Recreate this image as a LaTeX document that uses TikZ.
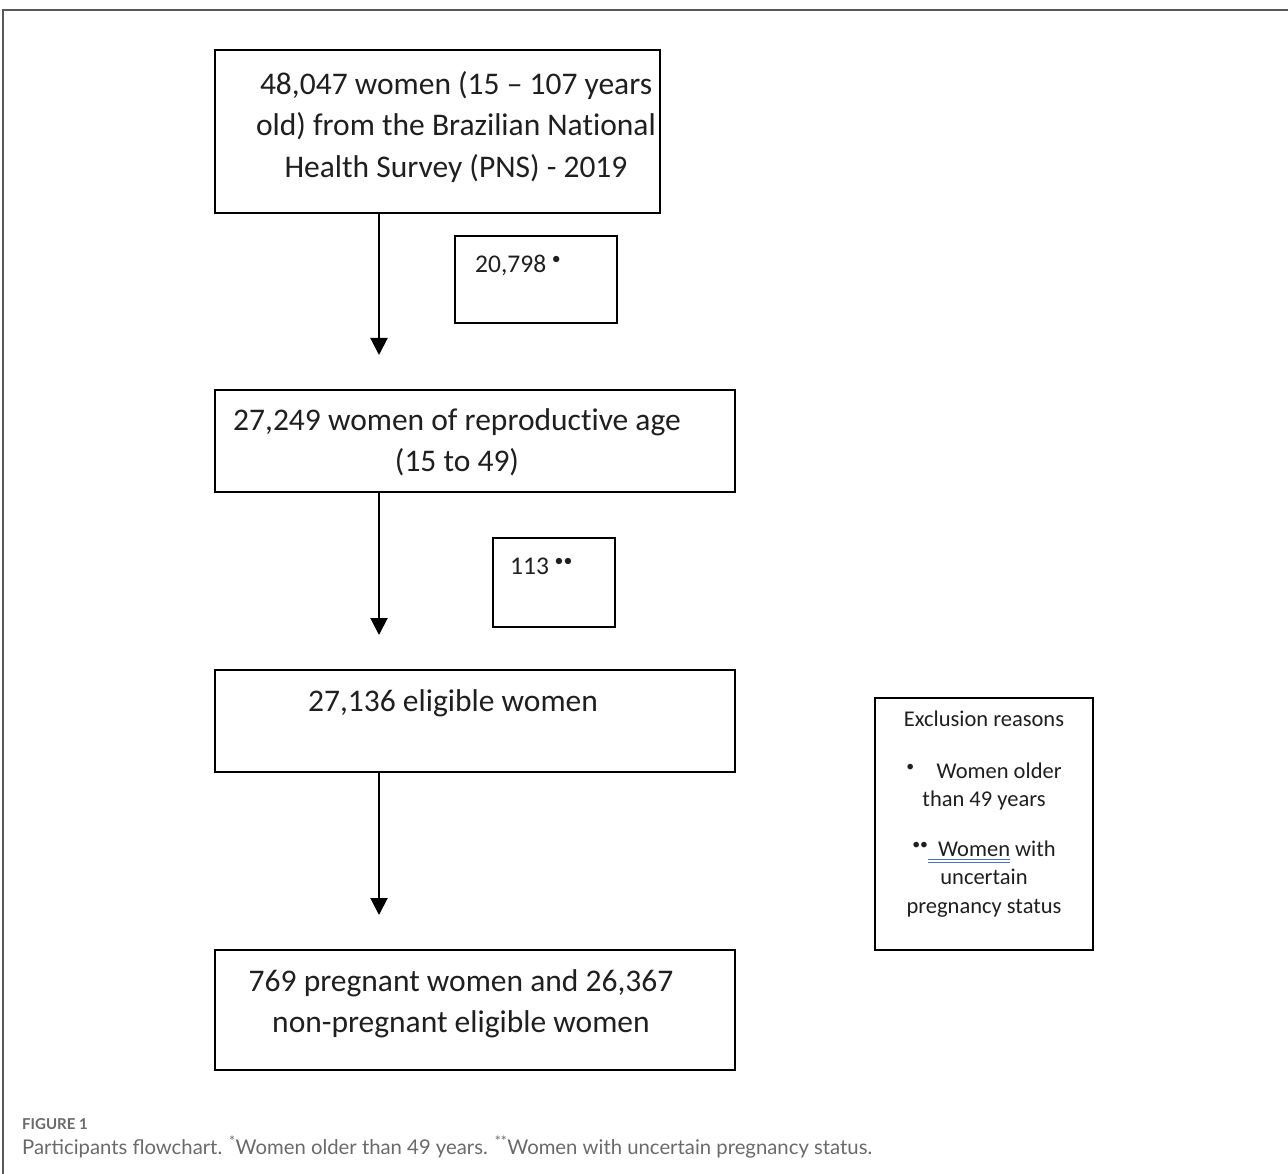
\documentclass[tikz,border=0pt]{standalone}
\usepackage{fontspec}
\setmainfont{Carlito}[Ligatures={TeX,NoCommon}]
\newfontfamily\captionfont{Lato}
\usetikzlibrary{arrows.meta}

\definecolor{captiongray}{HTML}{6A6A6A}
\definecolor{spellblue}{HTML}{4A72C4}
\newlength{\ulwd}
\newcommand{\spellul}[1]{\settowidth{\ulwd}{#1}\rlap{\color{spellblue}\rule[-4pt]{\ulwd}{1.2pt}\hspace{-\ulwd}\rule[-7pt]{\ulwd}{1.2pt}}#1}
\newcommand{\exdot}{\raisebox{0.3em}{\scalebox{0.7}{\textbullet}}}

\begin{document}
\begin{tikzpicture}[x=1pt, y=-1pt]
    \tikzstyle{flow box} = [draw=black, line width=2pt, inner sep=0pt]
    \tikzstyle{flow text} = [align=center, font=\fontsize{31.5}{41.5}\selectfont, text=black!88]
    \tikzstyle{excl box} = [draw=black, line width=1.8pt, inner sep=0pt]
    \tikzstyle{excl text} = [anchor=west, inner sep=0pt, font=\fontsize{25.5}{29}\selectfont, text=black!88]
    \tikzstyle{flow arrow} = [draw=black, line width=2pt, -{Triangle[length=17pt, width=17pt]}]
\useasboundingbox (0,0) rectangle (1288,1174);
% outer frame
\draw[black!65, line width=2pt] (1288,10) -- (3,10) -- (3,1174);
% main boxes
\node[flow box, minimum width=445pt, minimum height=163pt] (box1) at (437.5,131.5) {};
\node[flow text] (txt1) at (456,127) {48,047 women (15 – 107 years\\old) from the Brazilian National\\Health Survey (PNS) - 2019};
\node[flow box, minimum width=520pt, minimum height=102pt] (box2) at (475,441) {};
\node[flow text] (txt2) at (457,442) {27,249 women of reproductive age\\(15 to 49)};
\node[flow box, minimum width=520pt, minimum height=102pt] (box3) at (475,721) {};
\node[flow text] (txt3) at (453,703) {27,136 eligible women};
\node[flow box, minimum width=520pt, minimum height=120pt] (box4) at (475,1010) {};
\node[flow text] (txt4) at (461,1004) {769 pregnant women and 26,367\\non-pregnant eligible women};
% excluded
\node[excl box, minimum width=162pt, minimum height=87pt] (ex1) at (536,279.5) {};
\node[excl text] (ex1txt) at (475,265) {20,798 \exdot};
\node[excl box, minimum width=122pt, minimum height=89pt] (ex2) at (554,582.5) {};
\node[excl text] (ex2txt) at (510,566) {113 \exdot\exdot};
% arrows
\coordinate (tip1) at (379,355);
\coordinate (tip2) at (379,635);
\coordinate (tip3) at (379,915);
\draw[flow arrow] (box1.south -| tip1) to (tip1);
\draw[flow arrow] (box2.south -| tip2) to (tip2);
\draw[flow arrow] (box3.south -| tip3) to (tip3);
% legend
\node[excl box, minimum width=218pt, minimum height=252pt] (legend) at (984,824) {};
\node[align=center, anchor=north, inner sep=0pt, text=black!88, font=\fontsize{22.5}{28.5}\selectfont] (legendtxt) at (984,711)
    {Exclusion reasons\\[23pt]
     \exdot\quad Women older\\than 49 years\\[21pt]
     \exdot\exdot\spellul{\ \ Women} with\\uncertain\\pregnancy status};
% caption
\node[anchor=west, inner sep=0pt, text=captiongray, font=\captionfont\bfseries\fontsize{15}{18}\selectfont] (figlabel) at (22,1124) {FIGURE 1};
\node[anchor=west, inner sep=0pt, text=captiongray, font=\captionfont\fontsize{20.3}{23}\selectfont] (caption) at (22,1147)
    {Participants flowchart. \textsuperscript{*}Women older than 49 years. \textsuperscript{**}Women with uncertain pregnancy status.};
\end{tikzpicture}
\end{document}
